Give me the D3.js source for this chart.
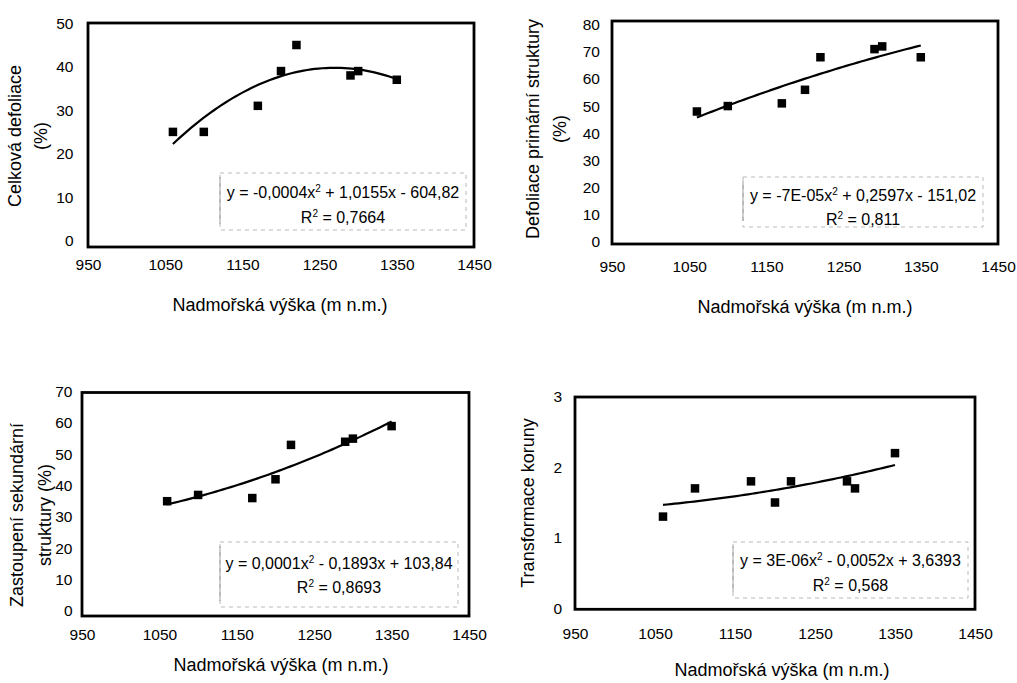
<!DOCTYPE html>
<html>
<head>
<meta charset="utf-8">
<script src="https://cdn.jsdelivr.net/npm/d3@7"></script>
<style>
  html, body { margin: 0; padding: 0; background: #fff; }
  svg { display: block; font-family: "Liberation Sans", Arial, sans-serif; }
</style>
</head>
<body>
<svg id="chart" width="1017" height="683"></svg>
<script>
// ---------------- DATA ----------------
const altitude = [1060, 1100, 1170, 1200, 1220, 1290, 1300, 1350];
const celkovaDefoliace = [25, 25, 31, 39, 45, 38, 39, 37];
const defoliacePrimarni = [48, 50, 51, 56, 68, 71, 72, 68];
const zastoupeniSekundarni = [35, 37, 36, 42, 53, 54, 55, 59];
const transformaceKoruny = [1.3, 1.7, 1.8, 1.5, 1.8, 1.8, 1.7, 2.2];

const xTicks = [950, 1050, 1150, 1250, 1350, 1450];
const yTicks1 = [0, 10, 20, 30, 40, 50];
const yTicks2 = [0, 10, 20, 30, 40, 50, 60, 70, 80];
const yTicks3 = [0, 10, 20, 30, 40, 50, 60, 70];
const yTicks4 = [0, 1, 2, 3];

const yTitles1 = ["Celková defoliace", "(%)"];
const yTitles2 = ["Defoliace primární struktury", "(%)"];
const yTitles3 = ["Zastoupení sekundární", "struktury (%)"];
const yTitles4 = ["Transformace koruny"];
const xTitle = "Nadmořská výška (m n.m.)";

// equation parts: [before x², after x²], r² value
const eq1 = ["y = -0,0004x", " + 1,0155x - 604,82"], r2_1 = "0,7664";
const eq2 = ["y = -7E-05x", " + 0,2597x - 151,02"], r2_2 = "0,811";
const eq3 = ["y = 0,0001x", " - 0,1893x + 103,84"], r2_3 = "0,8693";
const eq4 = ["y = 3E-06x", " - 0,0052x + 3,6393"], r2_4 = "0,568";

// ---------------- LAYOUT ----------------
const panels = [
  { values: celkovaDefoliace, yTicks: yTicks1, yTitles: yTitles1, eq: eq1, r2: r2_1,
    left: 88, right: 474, top: 23.3, zero: 240.5, frameTop: 23, frameBottom: 247, labelGap: 14.5,
    yTitleX: [15, 41], yTitleCY: 136, xLabelY: 265, xTitleX: 280, xTitleY: 305,
    box: { x: 220, y: 173, w: 246, h: 57 }, eqY: 192, r2Y: 217 },
  { values: defoliacePrimarni, yTicks: yTicks2, yTitles: yTitles2, eq: eq2, r2: r2_2,
    left: 612, right: 998, top: 24.7, zero: 241.7, frameTop: 21, frameBottom: 244, labelGap: 12,
    yTitleX: [533, 560], yTitleCY: 129, xLabelY: 266.7, xTitleX: 805, xTitleY: 306.7,
    box: { x: 743, y: 177, w: 240, h: 50 }, eqY: 195, r2Y: 219 },
  { values: zastoupeniSekundarni, yTicks: yTicks3, yTitles: yTitles3, eq: eq3, r2: r2_3,
    left: 82, right: 469, top: 391.7, zero: 610.7, frameTop: 392.5, frameBottom: 616, labelGap: 9.5,
    yTitleX: [17, 44.5], yTitleCY: 515, xLabelY: 635, xTitleX: 281, xTitleY: 665,
    box: { x: 220, y: 542, w: 238, h: 65 }, eqY: 563, r2Y: 587 },
  { values: transformaceKoruny, yTicks: yTicks4, yTitles: yTitles4, eq: eq4, r2: r2_4,
    left: 575, right: 975, top: 396.7, zero: 608.3, frameTop: 397, frameBottom: 609.3, labelGap: 13,
    yTitleX: [528], yTitleCY: 503, xLabelY: 633.3, xTitleX: 782, xTitleY: 670,
    box: { x: 733, y: 542, w: 235, h: 56 }, eqY: 560, r2Y: 585 }
];

// quadratic least-squares fit (like Excel polynomial trendline, order 2)
function polyfit2(xs, ys) {
  const c = 1200, s = 100;
  const t = xs.map(x => (x - c) / s);
  const S = k => d3.sum(t, v => Math.pow(v, k));
  const T = k => d3.sum(t.map((v, i) => Math.pow(v, k) * ys[i]));
  const A = [[S(0), S(1), S(2), T(0)], [S(1), S(2), S(3), T(1)], [S(2), S(3), S(4), T(2)]];
  for (let i = 0; i < 3; i++) {
    let p = i;
    for (let r = i + 1; r < 3; r++) if (Math.abs(A[r][i]) > Math.abs(A[p][i])) p = r;
    [A[i], A[p]] = [A[p], A[i]];
    for (let r = 0; r < 3; r++) {
      if (r === i) continue;
      const f = A[r][i] / A[i][i];
      for (let k = i; k < 4; k++) A[r][k] -= f * A[i][k];
    }
  }
  const b = A.map((row, i) => row[3] / row[i]);
  return x => { const v = (x - c) / s; return b[0] + b[1] * v + b[2] * v * v; };
}

const svg = d3.select("#chart");
const tickFont = 15.5;
const eqFont = 16;
const titleFont = 18;

panels.forEach(p => {
  const g = svg.append("g");
  const x = d3.scaleLinear().domain([xTicks[0], xTicks[xTicks.length - 1]]).range([p.left, p.right]);
  const yMax = p.yTicks[p.yTicks.length - 1];
  const y = d3.scaleLinear().domain([0, yMax]).range([p.zero, p.top]);

  // x axis labels (via d3 axis, tick lines hidden)
  const xAxis = g.append("g")
    .attr("transform", `translate(0,${p.xLabelY})`)
    .call(d3.axisBottom(x).tickValues(xTicks).tickSize(0).tickPadding(0).tickFormat(d3.format("d")));
  xAxis.select(".domain").remove();
  xAxis.selectAll("text").attr("dy", "0.35em").attr("font-size", tickFont)
    .attr("font-family", "Liberation Sans, Arial, sans-serif").attr("fill", "#000");

  // y axis labels
  const yAxis = g.append("g")
    .attr("transform", `translate(${p.left - p.labelGap},0)`)
    .call(d3.axisLeft(y).tickValues(p.yTicks).tickSize(0).tickPadding(0).tickFormat(d3.format("d")));
  yAxis.select(".domain").remove();
  yAxis.selectAll("text").attr("font-size", tickFont)
    .attr("font-family", "Liberation Sans, Arial, sans-serif").attr("fill", "#000");

  // equation box
  g.append("rect")
    .attr("x", p.box.x).attr("y", p.box.y).attr("width", p.box.w).attr("height", p.box.h)
    .attr("fill", "none").attr("stroke", "#aaa").attr("stroke-width", 0.8)
    .attr("stroke-dasharray", "4,4");
  g.append("line")
    .attr("x1", p.box.x).attr("x2", p.box.x).attr("y1", p.box.y + 4).attr("y2", p.box.y + p.box.h - 6)
    .attr("stroke", "#888").attr("stroke-width", 0.8);

  const cx = p.box.x + p.box.w / 2;
  const t1 = g.append("text").attr("x", cx).attr("y", p.eqY + 5.5)
    .attr("text-anchor", "middle").attr("font-size", eqFont);
  t1.append("tspan").text(p.eq[0]);
  t1.append("tspan").attr("dy", -6).attr("font-size", 10).text("2");
  t1.append("tspan").attr("dy", 6).text(p.eq[1]);
  const t2 = g.append("text").attr("x", cx).attr("y", p.r2Y + 5.5)
    .attr("text-anchor", "middle").attr("font-size", eqFont);
  t2.append("tspan").text("R");
  t2.append("tspan").attr("dy", -6).attr("font-size", 10).text("2");
  t2.append("tspan").attr("dy", 6).text(" = " + p.r2);

  // frame
  g.append("rect")
    .attr("x", p.left).attr("y", p.frameTop)
    .attr("width", p.right - p.left).attr("height", p.frameBottom - p.frameTop)
    .attr("fill", "none").attr("stroke", "#000").attr("stroke-width", 2.8);

  // trendline
  const f = polyfit2(altitude, p.values);
  const x0 = d3.min(altitude), x1 = d3.max(altitude);
  const pts = d3.range(0, 61).map(i => x0 + (x1 - x0) * i / 60);
  g.append("path")
    .attr("d", d3.line().x(d => x(d)).y(d => y(f(d)))(pts))
    .attr("fill", "none").attr("stroke", "#000").attr("stroke-width", 2.2);

  // points
  const ms = 8.5;
  g.selectAll("rect.pt").data(altitude.map((a, i) => [a, p.values[i]])).enter()
    .append("rect").attr("class", "pt")
    .attr("x", d => x(d[0]) - ms / 2).attr("y", d => y(d[1]) - ms / 2)
    .attr("width", ms).attr("height", ms).attr("fill", "#000");

  // axis titles
  g.append("text").attr("x", p.xTitleX).attr("y", p.xTitleY).attr("dy", "0.35em")
    .attr("text-anchor", "middle").attr("font-size", titleFont).text(xTitle);
  p.yTitles.forEach((tt, i) => {
    g.append("text")
      .attr("transform", `translate(${p.yTitleX[i]},${p.yTitleCY}) rotate(-90)`)
      .attr("dy", "0.35em").attr("text-anchor", "middle").attr("font-size", titleFont).text(tt);
  });
});
</script>
</body>
</html>
